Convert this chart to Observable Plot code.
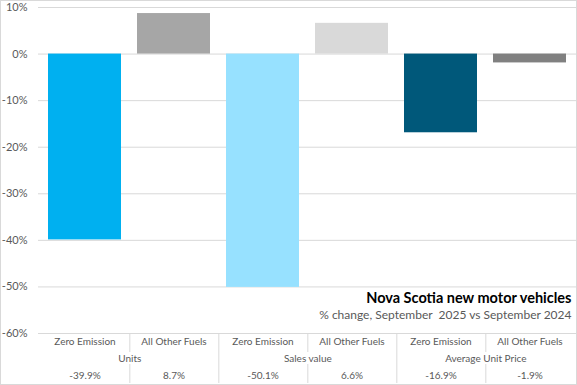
<!DOCTYPE html>
<html>
<head>
<meta charset="utf-8">
<script src="https://cdn.jsdelivr.net/npm/d3@7"></script>
<script src="https://cdn.jsdelivr.net/npm/@observablehq/plot@0.6"></script>
<style>
  html, body { margin: 0; padding: 0; background: #fff; }
  #chart svg { display: block; outline: 1px solid #d9d9d9; outline-offset: -1px; }
</style>
</head>
<body>
<div id="chart"></div>
<script>
const groups = ["Units", "Sales value", "Average Unit Price"];
const fuels = ["Zero Emission", "All Other Fuels"];
const zeroEmission = [-39.9, -50.1, -16.9];
const allOtherFuels = [8.7, 6.6, -1.9];
const yTicks = [10, 0, -10, -20, -30, -40, -50, -60];
const barColors = ["#00B0F0", "#A6A6A6", "#97E1FF", "#D9D9D9", "#00587A", "#808080"];
const title = "Nova Scotia new motor vehicles";
const subtitle = "% change, September  2025 vs September 2024";

const rows = [];
groups.forEach((g, i) => {
  [zeroEmission[i], allOtherFuels[i]].forEach((v, j) => {
    rows.push({key: g + " | " + fuels[j], group: g, fuel: fuels[j], value: v, label: v.toFixed(1) + "%"});
  });
});

const W = 577, H = 385, mL = 38, mR = 1, mT = 7, mB = 52;
const step = (W - mL - mR) / rows.length;
const font = "Lato, 'Liberation Sans', sans-serif";
const textCol = "#595959";

const chart = Plot.plot({
  width: W, height: H,
  marginLeft: mL, marginRight: mR, marginTop: mT, marginBottom: mB,
  style: {fontFamily: font, background: "#fff"},
  x: {domain: rows.map(d => d.key), paddingInner: 0.175, paddingOuter: 0.0875, axis: null},
  y: {domain: [-60, 10], axis: null},
  color: {domain: rows.map(d => d.key), range: barColors},
  marks: [
    Plot.gridY(yTicks, {stroke: "#d9d9d9", strokeOpacity: 1}),
    Plot.axisY(yTicks, {tickSize: 0, tickPadding: 11, tickFormat: d => d + "%", fontSize: 11, fill: textCol, label: null}),
    Plot.barY(rows, {x: "key", y: "value", fill: "key"}),
    // category table
    Plot.text(rows, {x: "key", text: "fuel", frameAnchor: "bottom", dy: 11, fontSize: 10, fill: textCol}),
    Plot.text(rows.filter(d => d.fuel === fuels[0]), {x: "key", text: "group", frameAnchor: "bottom", dy: 28, dx: step / 2, fontSize: 10, fill: textCol}),
    Plot.text(rows, {x: "key", text: "label", frameAnchor: "bottom", dy: 45, fontSize: 10, fill: textCol}),
    Plot.ruleX(rows.filter(d => d.fuel === fuels[0]), {x: "key", dx: step / 2, stroke: "#d9d9d9", insetTop: H - mT - mB, insetBottom: -19}),
    Plot.ruleX(rows.filter(d => d.fuel === fuels[0]), {x: "key", dx: step / 2, stroke: "#d9d9d9", insetTop: H - mT - mB + 31, insetBottom: -50}),
    Plot.ruleX(rows.filter((d, i) => d.fuel === fuels[1] && i < rows.length - 1), {x: "key", dx: step / 2, stroke: "#d9d9d9", insetTop: H - mT - mB, insetBottom: -50}),
    // title
    Plot.text([title], {text: d => d, frameAnchor: "bottom-right", dx: -5, dy: -31, fontSize: 14.5, fontWeight: "bold", fill: "#000"}),
    Plot.text([subtitle], {text: d => d, frameAnchor: "bottom-right", dx: -5, dy: -15, fontSize: 12, fill: textCol})
  ]
});
document.getElementById("chart").append(chart);
</script>
</body>
</html>
